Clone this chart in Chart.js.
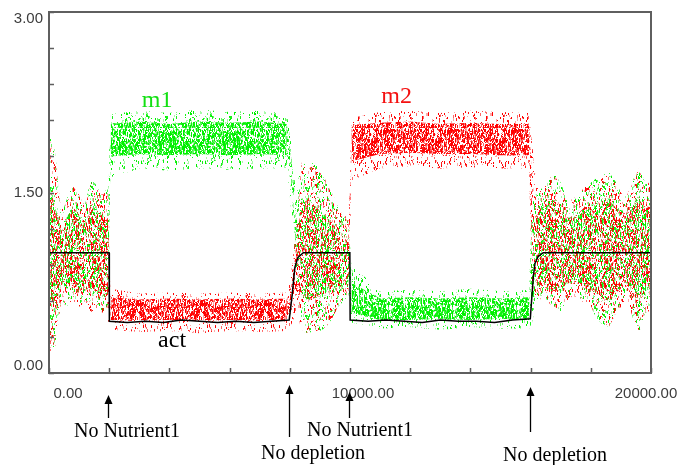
<!DOCTYPE html>
<html>
<head>
<meta charset="utf-8">
<script src="https://cdn.jsdelivr.net/npm/chart.js@4.4.1/dist/chart.umd.min.js"></script>
<style>
  html, body { margin: 0; padding: 0; background: #fff; }
  canvas { display: block; }
</style>
</head>
<body>
<canvas id="chart" width="684" height="465"></canvas>
<script>
const sampleX = [0, 50, 200, 400, 600, 800, 1000, 1200, 1400, 1600, 1800, 1950,
  2050, 3000, 4000, 5000, 6000, 7000, 7900,
  8050, 8200, 8400, 8600, 8800, 9000, 9200, 9400, 9600, 9800, 9950,
  10050, 11000, 12000, 13000, 14000, 15000, 15950,
  16050, 16200, 16400, 16600, 16800, 17000, 17200, 17400, 17600, 17800, 18000, 18200, 18400, 18600, 18800, 19000, 19200, 19400, 19600, 19800, 20000];

// m1: outer (sparse) and core (dense) envelope of the scatter cloud
const m1OuterHi = [2.10, 1.95, 1.85, 1.30, 1.45, 1.58, 1.45, 1.40, 1.62, 1.55, 1.45, 1.58,
  2.15, 2.18, 2.16, 2.19, 2.17, 2.18, 2.16,
  1.90, 1.50, 1.75, 1.72, 1.75, 1.70, 1.62, 1.50, 1.38, 1.30, 1.25,
  0.90, 0.68, 0.69, 0.68, 0.70, 0.68, 0.69,
  1.40, 1.50, 1.54, 1.60, 1.66, 1.58, 1.45, 1.41, 1.50, 1.52, 1.58, 1.62, 1.65, 1.67, 1.60, 1.52, 1.46, 1.60, 1.73, 1.58, 1.58];
const m1CoreHi = [1.60, 1.50, 1.40, 1.15, 1.30, 1.38, 1.30, 1.25, 1.40, 1.35, 1.30, 1.35,
  2.07, 2.09, 2.07, 2.09, 2.08, 2.09, 2.07,
  1.78, 1.40, 1.45, 1.45, 1.40, 1.35, 1.30, 1.25, 1.18, 1.15, 1.10,
  0.75, 0.62, 0.63, 0.62, 0.63, 0.62, 0.63,
  1.20, 1.35, 1.38, 1.40, 1.42, 1.38, 1.30, 1.28, 1.35, 1.36, 1.40, 1.42, 1.45, 1.45, 1.40, 1.36, 1.32, 1.40, 1.48, 1.38, 1.40];
const m1CoreLo = [0.60, 0.55, 0.50, 0.75, 0.70, 0.75, 0.68, 0.72, 0.70, 0.65, 0.70, 0.62,
  1.80, 1.82, 1.81, 1.82, 1.81, 1.82, 1.81,
  1.50, 1.10, 0.65, 0.60, 0.62, 0.62, 0.65, 0.70, 0.72, 0.75, 0.78,
  0.50, 0.44, 0.44, 0.45, 0.44, 0.45, 0.44,
  0.55, 0.72, 0.75, 0.72, 0.70, 0.68, 0.75, 0.78, 0.75, 0.72, 0.70, 0.66, 0.62, 0.60, 0.68, 0.70, 0.75, 0.65, 0.60, 0.68, 0.70];
const m1OuterLo = [0.10, 0.20, 0.22, 0.62, 0.55, 0.62, 0.55, 0.60, 0.52, 0.55, 0.50, 0.47,
  1.62, 1.70, 1.68, 1.70, 1.69, 1.70, 1.70,
  1.35, 0.90, 0.35, 0.33, 0.35, 0.35, 0.38, 0.45, 0.55, 0.60, 0.65,
  0.42, 0.37, 0.38, 0.36, 0.38, 0.37, 0.37,
  0.42, 0.60, 0.63, 0.60, 0.55, 0.50, 0.62, 0.66, 0.63, 0.60, 0.55, 0.45, 0.40, 0.38, 0.50, 0.55, 0.63, 0.45, 0.33, 0.50, 0.52];

// m2
const m2OuterHi = [2.00, 1.90, 1.80, 1.35, 1.42, 1.55, 1.48, 1.38, 1.58, 1.52, 1.48, 1.55,
  0.70, 0.66, 0.67, 0.66, 0.67, 0.66, 0.67,
  0.85, 1.15, 1.75, 1.70, 1.72, 1.68, 1.60, 1.48, 1.35, 1.32, 1.30,
  2.12, 2.17, 2.18, 2.16, 2.18, 2.17, 2.16,
  1.90, 1.55, 1.50, 1.62, 1.64, 1.55, 1.42, 1.45, 1.48, 1.55, 1.56, 1.60, 1.62, 1.65, 1.58, 1.50, 1.48, 1.58, 1.70, 1.55, 1.60];
const m2CoreHi = [1.55, 1.45, 1.40, 1.18, 1.28, 1.35, 1.32, 1.22, 1.38, 1.32, 1.30, 1.32,
  0.63, 0.61, 0.62, 0.61, 0.62, 0.61, 0.62,
  0.72, 1.00, 1.45, 1.42, 1.40, 1.35, 1.30, 1.25, 1.18, 1.15, 1.12,
  2.06, 2.08, 2.09, 2.07, 2.08, 2.07, 2.07,
  1.60, 1.38, 1.36, 1.42, 1.44, 1.36, 1.28, 1.30, 1.33, 1.38, 1.38, 1.40, 1.42, 1.44, 1.38, 1.34, 1.32, 1.38, 1.45, 1.36, 1.40];
const m2CoreLo = [0.55, 0.55, 0.50, 0.72, 0.68, 0.72, 0.66, 0.70, 0.68, 0.62, 0.66, 0.60,
  0.44, 0.43, 0.44, 0.43, 0.44, 0.43, 0.44,
  0.50, 0.65, 0.65, 0.62, 0.62, 0.65, 0.66, 0.70, 0.72, 0.75, 0.80,
  1.76, 1.82, 1.83, 1.82, 1.82, 1.81, 1.81,
  0.95, 0.75, 0.72, 0.70, 0.68, 0.70, 0.74, 0.76, 0.74, 0.70, 0.68, 0.64, 0.62, 0.60, 0.66, 0.70, 0.72, 0.64, 0.60, 0.66, 0.70];
const m2OuterLo = [0.05, 0.18, 0.20, 0.60, 0.55, 0.60, 0.55, 0.58, 0.50, 0.52, 0.50, 0.45,
  0.36, 0.34, 0.35, 0.33, 0.35, 0.34, 0.35,
  0.40, 0.50, 0.36, 0.33, 0.34, 0.36, 0.38, 0.45, 0.55, 0.62, 0.68,
  1.60, 1.70, 1.72, 1.70, 1.71, 1.70, 1.70,
  0.72, 0.60, 0.62, 0.58, 0.55, 0.52, 0.60, 0.64, 0.62, 0.58, 0.55, 0.45, 0.40, 0.38, 0.48, 0.55, 0.60, 0.46, 0.35, 0.50, 0.52];

// act (black line)
const actX = [0, 1995, 2005, 2600, 3200, 3800, 4400, 5000, 5600, 6200, 6800, 7400, 7980, 8070, 8170, 8270, 8450,
  9995, 10005, 10600, 11200, 11800, 12400, 13000, 13600, 14200, 14800, 15400, 15990, 16090, 16145, 16256, 16420, 20000];
const actY = [1.00, 1.00, 0.43, 0.42, 0.43, 0.42, 0.44, 0.43, 0.42, 0.43, 0.42, 0.43, 0.44, 0.63, 0.88, 0.96, 1.00,
  1.00, 0.44, 0.43, 0.44, 0.43, 0.42, 0.44, 0.43, 0.43, 0.42, 0.44, 0.45, 0.80, 0.91, 0.97, 1.00, 1.00];

const stableRanges = [[2000, 8000], [10000, 16000]];
const eventX = [2000, 8000, 10000, 16000];
const eventLabels = ['No Nutrient1', 'No depletion', 'No Nutrient1', 'No depletion'];
const yTicks = [0, 0.3, 0.6, 0.9, 1.2, 1.5, 1.8, 2.1, 2.4, 2.7, 3.0];
const yLabels = [0, 1.5, 3.0];
const xTicks = [0, 2000, 4000, 6000, 8000, 10000, 12000, 14000, 16000, 18000, 20000];
const xLabels = [0, 10000, 20000];

function hash(n) {
  n = (n ^ 61) ^ (n >>> 16);
  n = n + (n << 3);
  n = n ^ (n >>> 4);
  n = Math.imul(n, 0x27d4eb2d);
  n = n ^ (n >>> 15);
  return n >>> 0;
}

// speckle texture used to paint the scatter clouds
function speckle(rgb, count, seed) {
  const size = 64;
  const c = document.createElement('canvas');
  c.width = c.height = size;
  const g = c.getContext('2d');
  const alphas = [1, 0.9, 0.6, 0.35];
  for (let i = 0; i < count; i++) {
    const h1 = hash(i * 2 + seed * 7919 + 1);
    const h2 = hash(h1 + i + 3);
    g.fillStyle = 'rgba(' + rgb + ',' + alphas[(h1 >>> 8) & 3] + ')';
    g.fillRect(h1 % size, h2 % size, 1, 1 + ((h2 >>> 8) % 3));
  }
  return g.createPattern(c, 'repeat');
}

const pts = (xs, ys) => xs.map((x, i) => ({x, y: ys[i]}));
const isStable = (a, b) => stableRanges.some(r => a >= r[0] && b <= r[1]);

function cloud(rgb, seed, hi, coreHi, coreLo, lo, order) {
  const sparse = speckle(rgb, 380, seed);
  const medium = speckle(rgb, 950, seed + 1);
  const dense = speckle(rgb, 2600, seed + 2);
  const base = {borderWidth: 0, borderColor: 'transparent', pointRadius: 0, pointHoverRadius: 0, tension: 0, order};
  return [
    {...base, data: pts(sampleX, hi), fill: '+1', backgroundColor: sparse},
    {...base, data: pts(sampleX, coreHi), fill: '+1', backgroundColor: dense,
      segment: {backgroundColor: c => isStable(c.p0.parsed.x, c.p1.parsed.x) ? dense : medium}},
    {...base, data: pts(sampleX, coreLo), fill: '+1', backgroundColor: sparse},
    {...base, data: pts(sampleX, lo), fill: false},
  ];
}

const decorations = {
  id: 'decorations',
  afterDatasetsDraw(chart) {
    const {ctx, chartArea: a, scales: {x, y}} = chart;
    ctx.save();
    ctx.strokeStyle = '#5f5f5f';
    ctx.lineWidth = 2;
    ctx.strokeRect(a.left, a.top, a.right - a.left, a.bottom - a.top);
    ctx.lineWidth = 1.5;
    ctx.beginPath();
    yTicks.forEach(v => {
      const py = Math.round(y.getPixelForValue(v)) + 0.5;
      ctx.moveTo(a.left, py); ctx.lineTo(a.left + 5, py);
    });
    xTicks.forEach(v => {
      const px = Math.round(x.getPixelForValue(v)) + 0.5;
      ctx.moveTo(px, a.bottom); ctx.lineTo(px, a.bottom - 5);
    });
    ctx.stroke();

    ctx.fillStyle = '#3c3c3c';
    ctx.font = '15px "Liberation Sans", Arial, sans-serif';
    ctx.textAlign = 'right';
    ctx.textBaseline = 'middle';
    yLabels.forEach(v => {
      const py = Math.min(Math.max(y.getPixelForValue(v), a.top + 7), a.bottom - 7);
      ctx.fillText(v.toFixed(2), a.left - 6, py);
    });
    ctx.textAlign = 'center';
    const xShift = [19, 13, -5];
    xLabels.forEach((v, i) => {
      ctx.fillText(v.toFixed(2), x.getPixelForValue(v) + xShift[i], a.bottom + 21);
    });

    // series names
    ctx.font = '24px "Liberation Serif", "Times New Roman", serif';
    ctx.textBaseline = 'alphabetic';
    ctx.fillStyle = '#12e012';
    ctx.fillText('m1', x.getPixelForValue(3590), y.getPixelForValue(2.21));
    ctx.fillStyle = '#f41010';
    ctx.fillText('m2', x.getPixelForValue(11550), y.getPixelForValue(2.24));
    ctx.fillStyle = '#000';
    ctx.fillText('act', x.getPixelForValue(4090), y.getPixelForValue(0.22));

    // event arrows below the axis
    const tipY = [395, 385, 392, 387];
    const tailY = [418, 437, 418, 432];
    const textX = [127, 313, 360, 555];
    const textY = [437, 459, 436, 461];
    ctx.font = '20px "Liberation Serif", "Times New Roman", serif';
    ctx.strokeStyle = '#000';
    ctx.lineWidth = 1.3;
    eventX.forEach((ev, i) => {
      const px = Math.round(x.getPixelForValue(ev)) - 0.5;
      ctx.fillText(eventLabels[i], textX[i], textY[i]);
      ctx.beginPath();
      ctx.moveTo(px, tipY[i] + 6); ctx.lineTo(px, tailY[i]);
      ctx.stroke();
      ctx.beginPath();
      ctx.moveTo(px, tipY[i]);
      ctx.lineTo(px - 4, tipY[i] + 9);
      ctx.lineTo(px + 4, tipY[i] + 9);
      ctx.closePath();
      ctx.fill();
    });
    ctx.restore();
  }
};

new Chart(document.getElementById('chart'), {
  type: 'line',
  data: {
    datasets: [
      {data: pts(actX, actY), borderColor: '#000', borderWidth: 1.5, pointRadius: 0, tension: 0, fill: false, order: 0},
      ...cloud('255,0,0', 11, m2OuterHi, m2CoreHi, m2CoreLo, m2OuterLo, 1),
      ...cloud('0,240,0', 23, m1OuterHi, m1CoreHi, m1CoreLo, m1OuterLo, 2),
    ]
  },
  options: {
    responsive: false,
    animation: false,
    events: [],
    layout: {padding: {left: 49, right: 33, top: 12, bottom: 92}},
    scales: {
      x: {type: 'linear', min: 0, max: 20000, display: false},
      y: {type: 'linear', min: 0, max: 3, display: false}
    },
    plugins: {legend: {display: false}, tooltip: {enabled: false}}
  },
  plugins: [decorations]
});
</script>
</body>
</html>
